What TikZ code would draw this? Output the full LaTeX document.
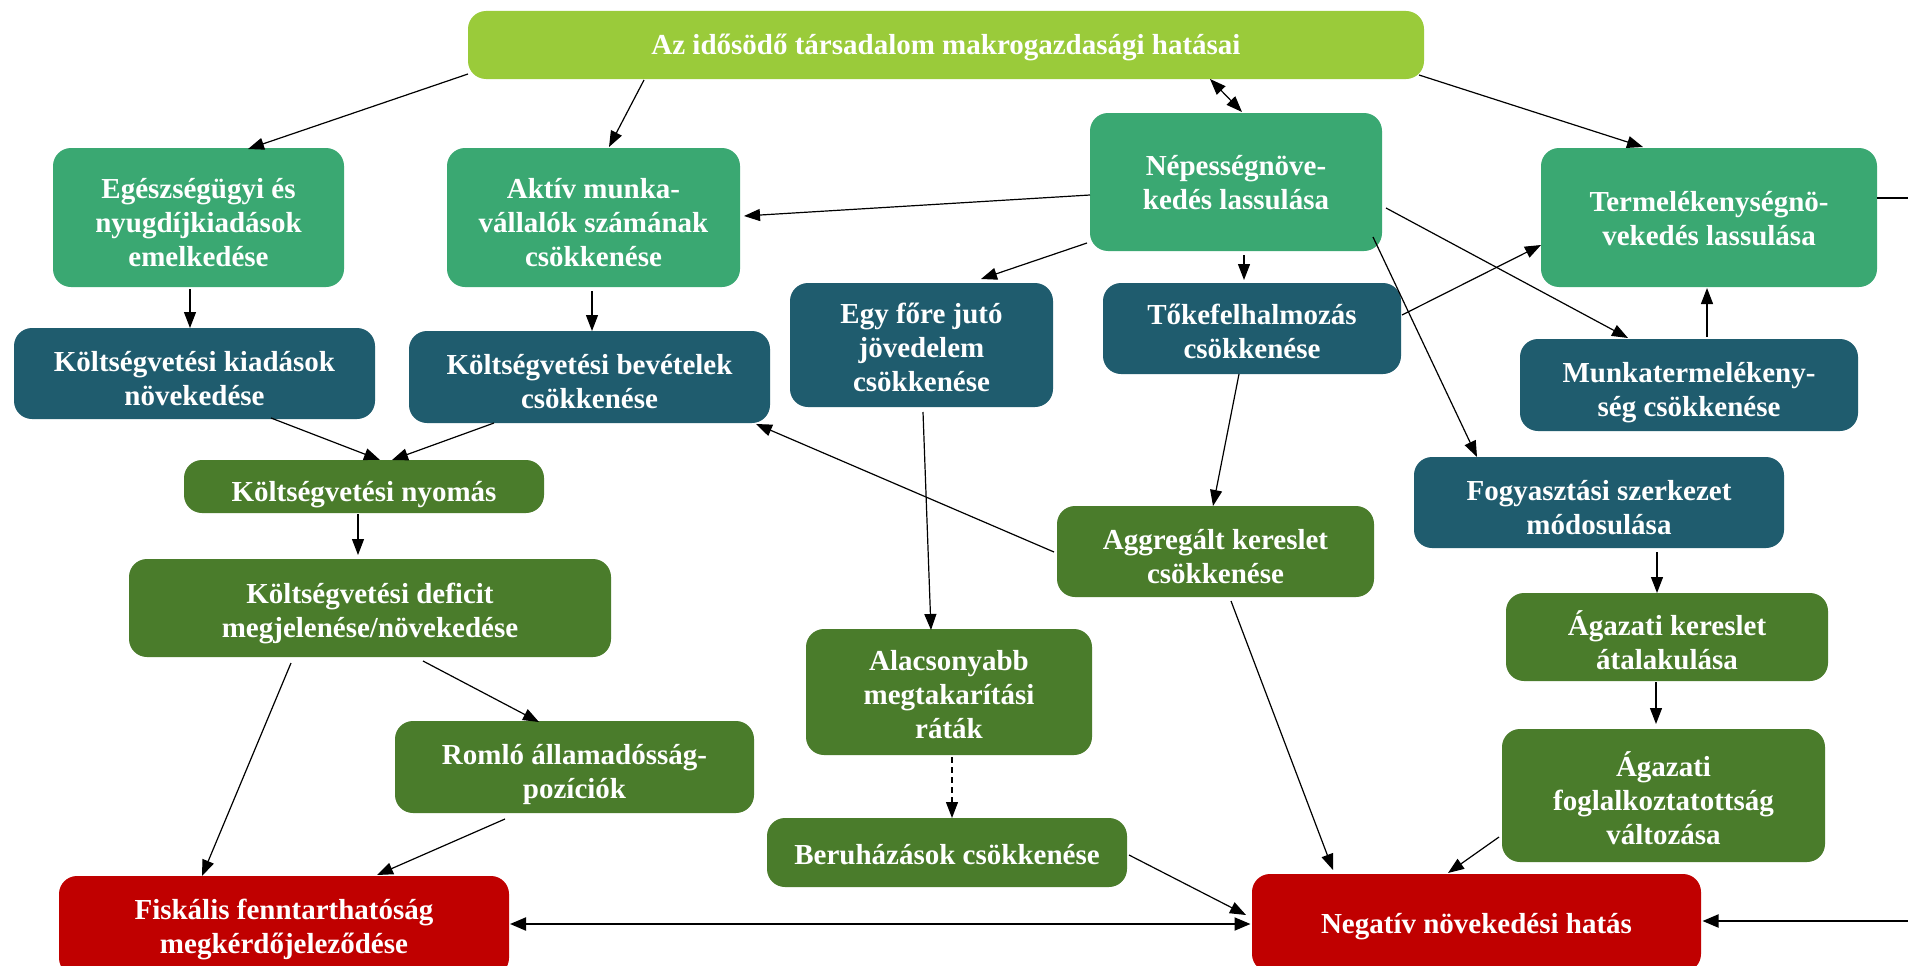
\documentclass[tikz,border=0pt]{standalone}
\usepackage{fontspec}
\setmainfont{Liberation Serif}
\usetikzlibrary{arrows.meta,calc}
\definecolor{cTitle}{HTML}{9ACB3A}
\definecolor{cMid}{HTML}{3AA872}
\definecolor{cTeal}{HTML}{1F5C6E}
\definecolor{cDark}{HTML}{4A7C2B}
\definecolor{cRed}{HTML}{C00000}
\newcommand{\boxtext}[2][8pt]{\raisebox{-#1}[\height][\depth]{\begin{tabular}{@{}c@{}}#2\end{tabular}}}
\begin{document}
\begin{tikzpicture}[x=1pt,y=-1pt,
  bx/.style={fill=#1, rounded corners=18pt, text=white, inner sep=0pt,
    font=\fontsize{29}{34}\selectfont\bfseries},
  conn/.style={line width=1.2pt, -{Triangle[length=16pt,width=12pt]}},
  biconn/.style={line width=1.2pt, {Triangle[length=16pt,width=12pt]}-{Triangle[length=16pt,width=12pt]}},
  thick conn/.style={line width=2pt, -{Triangle[length=16pt,width=13pt]}},
  thick biconn/.style={line width=2pt, {Triangle[length=16pt,width=13pt]}-{Triangle[length=16pt,width=13pt]}}]
\useasboundingbox (0,0) rectangle (1908,966);
\fill[white] (0,0) rectangle (1908,966);

% nodes
\node[bx=cTitle, minimum width=956pt, minimum height=68pt] (title) at (946,45) {\raisebox{-2pt}[\height][\depth]{Az idősödő társadalom makrogazdasági hatásai}};
\node[bx=cMid, minimum width=291pt, minimum height=139pt] (egesz) at (198.5,217.5) {\boxtext{Egészségügyi és\\nyugdíjkiadások\\emelkedése}};
\node[bx=cMid, minimum width=293pt, minimum height=139pt] (aktiv) at (593.5,217.5) {\boxtext{Aktív munka-\\vállalók számának\\csökkenése}};
\node[bx=cMid, minimum width=292pt, minimum height=138pt] (nepes) at (1236,182) {\boxtext[4pt]{Népességnöve-\\kedés lassulása}};
\node[bx=cMid, minimum width=336pt, minimum height=139pt] (termel) at (1709,217.5) {\boxtext[4pt]{Termelékenységnö-\\vekedés lassulása}};
\node[bx=cTeal, minimum width=361pt, minimum height=91pt] (kiad) at (194.5,373.5) {\boxtext{Költségvetési kiadások\\növekedése}};
\node[bx=cTeal, minimum width=361pt, minimum height=92pt] (bevet) at (589.5,377) {\boxtext{Költségvetési bevételek\\csökkenése}};
\node[bx=cTeal, minimum width=263pt, minimum height=124pt] (egyfo) at (921.5,345) {\boxtext[6pt]{Egy főre jutó\\jövedelem\\csökkenése}};
\node[bx=cTeal, minimum width=298pt, minimum height=91pt] (toke) at (1252,328.5) {\boxtext[6pt]{Tőkefelhalmozás\\csökkenése}};
\node[bx=cTeal, minimum width=338pt, minimum height=92pt] (munka) at (1689,385) {\boxtext{Munkatermelékeny-\\ség csökkenése}};
\node[bx=cDark, minimum width=360pt, minimum height=53pt] (nyomas) at (364,486.5) {\boxtext{Költségvetési nyomás}};
\node[bx=cTeal, minimum width=370pt, minimum height=91pt] (fogy) at (1599,502.5) {\boxtext{Fogyasztási szerkezet\\módosulása}};
\node[bx=cDark, minimum width=317pt, minimum height=91pt] (aggreg) at (1215.5,551.5) {\boxtext{Aggregált kereslet\\csökkenése}};
\node[bx=cDark, minimum width=482pt, minimum height=98pt] (deficit) at (370,608) {\boxtext[6pt]{Költségvetési deficit\\megjelenése/növekedése}};
\node[bx=cDark, minimum width=286pt, minimum height=126pt] (alacs) at (949,692) {\boxtext[6pt]{Alacsonyabb\\megtakarítási\\ráták}};
\node[bx=cDark, minimum width=322pt, minimum height=88pt] (agker) at (1667,637) {\boxtext{Ágazati kereslet\\átalakulása}};
\node[bx=cDark, minimum width=359pt, minimum height=92pt] (romlo) at (574.5,767) {\boxtext{Romló államadósság-\\pozíciók}};
\node[bx=cDark, minimum width=323pt, minimum height=133pt] (foglal) at (1663.5,795.5) {\boxtext{Ágazati\\foglalkoztatottság\\változása}};
\node[bx=cDark, minimum width=360pt, minimum height=69pt] (beruh) at (947,852.5) {\boxtext[5pt]{Beruházások csökkenése}};
\node[bx=cRed, minimum width=450pt, minimum height=100pt] (fisk) at (284,926) {\boxtext[4pt]{Fiskális fenntarthatóság\\megkérdőjeleződése}};
\node[bx=cRed, minimum width=449pt, minimum height=98pt] (negat) at (1476.5,923) {\boxtext[4pt]{Negatív növekedési hatás}};

\coordinate (rtop) at (1908,198);
\coordinate (rbot) at (1908,921);

% connectors
\draw[conn] ($(title)+(-478,29)$) -- ($(egesz)+(49.5,-68.5)$);
\draw[conn] ($(title)+(-302,35)$) -- ($(aktiv)+(15.5,-70.5)$);
\draw[biconn] ($(title)+(264,34)$) -- ($(nepes)+(6,-70)$);
\draw[conn] ($(title)+(473,30)$) -- ($(termel)+(-66,-70.5)$);
\draw[conn] ($(nepes)+(-146,13)$) -- ($(aktiv)+(150.5,-1.5)$);
\draw[conn] ($(nepes)+(-149,61)$) -- ($(egyfo)+(59.5,-66)$);
\draw[conn] ($(nepes)+(8,73)$) -- ($(toke)+(-8,-48.5)$);
\draw[conn] ($(nepes)+(150,26)$) -- ($(munka)+(-61,-47)$);
\draw[conn] ($(nepes)+(137,55)$) -- ($(fogy)+(-122,-45.5)$);
\draw[conn] ($(toke)+(150,-13.5)$) -- ($(termel)+(-168,27.5)$);
\draw[conn] ($(munka)+(18,-48)$) -- ($(termel)+(-2,70.5)$);
\draw[line width=2pt] ($(termel)+(168,-19.5)$) -- (rtop);
\draw[conn] ($(egesz)+(-8.5,71.5)$) -- ($(kiad)+(-4.5,-45.5)$);
\draw[conn] ($(aktiv)+(-1.5,73.5)$) -- ($(bevet)+(2.5,-46)$);
\draw[conn] ($(kiad)+(76.5,44.5)$) -- ($(nyomas)+(16,-26.5)$);
\draw[conn] ($(bevet)+(-95.5,46)$) -- ($(nyomas)+(28,-26.5)$);
\draw[conn] ($(aggreg)+(-161.5,0.5)$) -- ($(bevet)+(166.5,47)$);
\draw[conn] ($(egyfo)+(1.5,67)$) -- ($(alacs)+(-18,-62)$);
\draw[conn] ($(toke)+(-13,45.5)$) -- ($(aggreg)+(-2.5,-45.5)$);
\draw[conn] ($(nyomas)+(-6,27.5)$) -- ($(deficit)+(-12,-53)$);
\draw[conn] ($(deficit)+(-79,55)$) -- ($(fisk)+(-82,-50)$);
\draw[conn] ($(deficit)+(53,53)$) -- ($(romlo)+(-35.5,-45)$);
\draw[conn] ($(romlo)+(-69.5,52)$) -- ($(fisk)+(93,-51)$);
\draw[conn, dash pattern=on 6pt off 4pt] ($(alacs)+(3,65)$) -- ($(beruh)+(5,-34.5)$);
\draw[conn] ($(beruh)+(182,2.5)$) -- ($(negat)+(-230.5,-8)$);
\draw[conn] ($(aggreg)+(15.5,49.5)$) -- ($(negat)+(-143.5,-53)$);
\draw[conn] ($(foglal)+(-164.5,41.5)$) -- ($(negat)+(-28.5,-50)$);
\draw[conn] ($(fogy)+(58,49.5)$) -- ($(agker)+(-10,-44)$);
\draw[conn] ($(agker)+(-11,45)$) -- ($(foglal)+(-7.5,-71.5)$);
\draw[thick biconn] ($(fisk)+(226,-2)$) -- ($(negat)+(-226,1)$);
\draw[thick conn] (rbot) -- ($(negat)+(226,-2)$);
\end{tikzpicture}
\end{document}
